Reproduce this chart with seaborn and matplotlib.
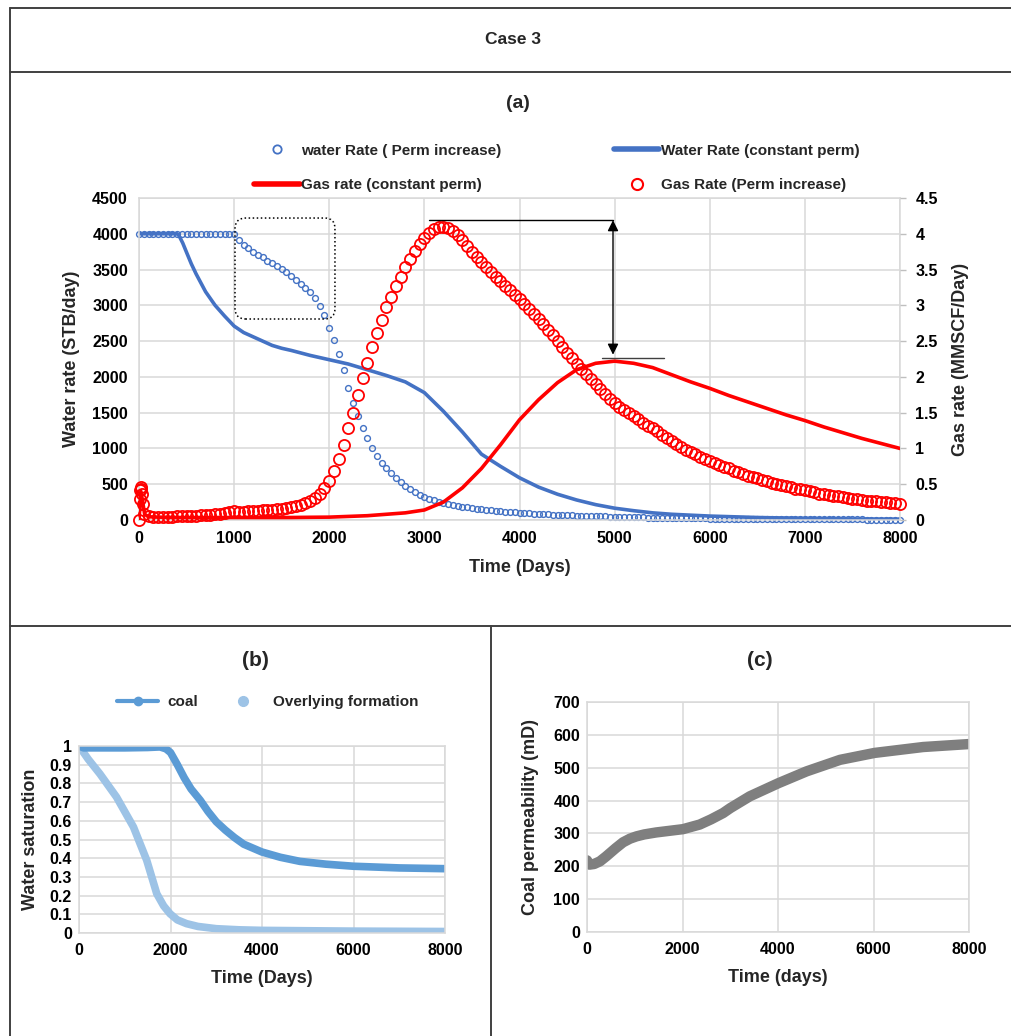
import numpy as np
import matplotlib
matplotlib.use("Agg")
import matplotlib.pyplot as plt
import seaborn as sns
from matplotlib.lines import Line2D
from matplotlib.patches import FancyBboxPatch
from matplotlib.ticker import FuncFormatter, MultipleLocator

# ---- panel (a): sampled every 50 days, 0..8000 ----
t50 = np.arange(0, 8001, 50)

water_inc = [
    4000, 4000, 4000, 4000, 4000, 4000, 4000, 4000, 4000, 4000,
    4000, 4000, 4000, 4000, 4000, 4000, 4000, 4000, 4000, 4000,
    3990, 3920, 3850, 3795, 3750, 3710, 3670, 3625, 3585, 3545,
    3510, 3465, 3415, 3360, 3295, 3240, 3180, 3100, 2990, 2860,
    2690, 2520, 2320, 2090, 1840, 1640, 1450, 1290, 1140, 1010,
    900, 800, 720, 650, 590, 530, 475, 430, 390, 355,
    325, 300, 278, 258, 240, 225, 211, 199, 187, 176,
    166, 157, 149, 141, 134, 127, 121, 115, 110, 105,
    100, 96, 92, 88, 85, 82, 79, 76, 73, 70,
    67, 64, 62, 60, 57, 55, 53, 51, 49, 47,
    45, 43, 41, 40, 38, 37, 35, 34, 33, 31,
    30, 29, 28, 27, 26, 25, 24, 23, 22, 21,
    20, 19.5, 19, 18.5, 18, 17.5, 17, 16.5, 16, 15.5,
    15, 14.5, 14, 13.5, 13, 12.5, 12, 11.5, 11, 10.5,
    10, 9.7, 9.4, 9.1, 8.8, 8.5, 8.2, 8, 7.8, 7.6,
    7.4, 7.2, 7, 6.8, 6.6, 6.4, 6.2, 6, 5.8, 5.6,
    5.5,
]

gas_inc = [
    0.0, 0.08, 0.05, 0.045, 0.045, 0.045, 0.045, 0.045, 0.05, 0.05,
    0.05, 0.055, 0.06, 0.065, 0.07, 0.075, 0.08, 0.09, 0.10, 0.11,
    0.12, 0.11, 0.115, 0.12, 0.125, 0.13, 0.135, 0.14, 0.145, 0.15,
    0.16, 0.17, 0.18, 0.195, 0.21, 0.235, 0.27, 0.31, 0.37, 0.45,
    0.55, 0.68, 0.85, 1.05, 1.28, 1.50, 1.75, 1.98, 2.20, 2.42,
    2.62, 2.80, 2.97, 3.12, 3.27, 3.40, 3.53, 3.65, 3.76, 3.86,
    3.94, 4.01, 4.06, 4.09, 4.10, 4.08, 4.04, 3.98, 3.91, 3.83,
    3.75, 3.68, 3.61, 3.54, 3.47, 3.40, 3.34, 3.27, 3.21, 3.15,
    3.09, 3.02, 2.95, 2.88, 2.81, 2.74, 2.66, 2.58, 2.50, 2.42,
    2.34, 2.26, 2.18, 2.11, 2.04, 1.97, 1.90, 1.83, 1.76, 1.69,
    1.63, 1.58, 1.54, 1.49, 1.45, 1.41, 1.36, 1.32, 1.28, 1.24,
    1.19, 1.15, 1.10, 1.06, 1.02, 0.98, 0.95, 0.92, 0.88, 0.85,
    0.82, 0.79, 0.77, 0.74, 0.72, 0.69, 0.67, 0.64, 0.62, 0.60,
    0.58, 0.56, 0.54, 0.52, 0.50, 0.49, 0.47, 0.46, 0.44, 0.43,
    0.42, 0.40, 0.39, 0.37, 0.36, 0.35, 0.34, 0.33, 0.32, 0.31,
    0.30, 0.29, 0.28, 0.27, 0.265, 0.26, 0.25, 0.245, 0.24, 0.235,
    0.23,
]
# early start-up spike of the perm-increase gas rate
gas_spike_t = [10, 15, 20, 25, 30, 40]
gas_spike_v = [0.30, 0.42, 0.46, 0.44, 0.36, 0.22]

water_const_t = [0, 200, 400, 420, 460, 500, 550, 600, 700, 800, 900, 1000, 1100, 1200,
                 1300, 1400, 1500, 1600, 1700, 1800, 1900, 2000, 2200, 2400, 2600, 2800,
                 3000, 3200, 3400, 3600, 3800, 4000, 4200, 4400, 4600, 4800, 5000,
                 5200, 5400, 5600, 6000, 6500, 7000, 7500, 8000]
water_const_v = [4000, 4000, 4000, 3975, 3870, 3740, 3580, 3440, 3190, 3000, 2850, 2710,
                 2620, 2560, 2500, 2440, 2400, 2370, 2335, 2300, 2270, 2240, 2180, 2100,
                 2020, 1930, 1780, 1520, 1230, 920, 750, 590, 460, 360, 280, 215, 165,
                 130, 100, 80, 55, 35, 22, 14, 10]

gas_const_t = [0, 20, 60, 100, 200, 400, 600, 800, 1000, 1200, 1400, 1600, 1800, 2000,
               2200, 2400, 2600, 2800, 3000, 3200, 3400, 3600, 3800, 4000, 4200, 4400,
               4600, 4800, 5000, 5200, 5400, 5600, 5800, 6000, 6200, 6400, 6600, 6800,
               7000, 7200, 7400, 7600, 7800, 8000]
gas_const_v = [0.0, 0.40, 0.08, 0.045, 0.04, 0.035, 0.035, 0.035, 0.035, 0.035, 0.035,
               0.035, 0.038, 0.04, 0.05, 0.06, 0.08, 0.10, 0.14, 0.25, 0.45, 0.72, 1.05,
               1.40, 1.68, 1.92, 2.10, 2.19, 2.22, 2.19, 2.13, 2.03, 1.93, 1.84, 1.74,
               1.65, 1.56, 1.47, 1.39, 1.30, 1.22, 1.14, 1.07, 1.00]

# annotation: peak gap between the two gas curves
peak_hi = 4.19
peak_lo = 2.26
arrow_t = 4983

# ---- panel (b) ----
coal_t = [0, 100, 500, 1000, 1500, 1770, 1900, 2000, 2150, 2300, 2450, 2650, 2820,
          3000, 3200, 3400, 3600, 4000, 4400, 4830, 5400, 6000, 7000, 8000]
coal_v = [1.0, 0.99, 0.99, 0.99, 0.992, 0.995, 0.985, 0.965, 0.90, 0.83, 0.77, 0.71,
          0.65, 0.595, 0.55, 0.51, 0.475, 0.433, 0.405, 0.383, 0.368, 0.357, 0.348, 0.344]
over_t = [0, 200, 460, 820, 1190, 1480, 1700, 1850, 1990, 2150, 2350, 2600, 3000, 3500,
          4000, 5000, 6000, 7000, 8000]
over_v = [1.0, 0.93, 0.85, 0.727, 0.567, 0.389, 0.21, 0.145, 0.103, 0.07, 0.05, 0.035,
          0.023, 0.017, 0.014, 0.012, 0.01, 0.009, 0.008]

# ---- panel (c) ----
perm_t = [0, 50, 150, 270, 400, 600, 755, 900, 1035, 1200, 1450, 2010, 2360, 2600, 2850,
          3000, 3410, 4010, 4600, 5300, 6020, 7040, 8000]
perm_v = [218, 205, 207, 215, 230, 255, 273, 284, 291, 297, 303, 313, 327, 343, 362,
          377, 413, 453, 489, 524, 545, 563, 572]

BLUE = "#4472C4"
RED = "#FF0000"
COAL = "#5B9BD5"
OVER = "#9DC3E6"
GREY = "#7F7F7F"
GRID = "#D9D9D9"

sns.set_theme(style="whitegrid")
plt.rcParams['font.family'] = ['Liberation Sans', 'DejaVu Sans']
plt.rcParams['font.weight'] = 'bold'
plt.rcParams['axes.labelweight'] = 'bold'

W, H = 1011, 1036
fig = plt.figure(figsize=(W / 100, H / 100), dpi=100)
fig.patch.set_facecolor('white')


def box(l, t, r, b):
    return [l / W, 1 - b / H, (r - l) / W, (b - t) / H]


def style(ax):
    ax.set_facecolor('white')
    ax.grid(True, color=GRID, lw=1.1)
    for s in ax.spines.values():
        s.set_color(GRID)
        s.set_linewidth(1.1)
    ax.tick_params(length=0, labelsize=11.5, colors='black')
    for lab in ax.get_xticklabels() + ax.get_yticklabels():
        lab.set_fontweight('bold')


fmt = FuncFormatter(lambda v, p: f"{v:g}")

# ---------------- panel (a) ----------------
ax = fig.add_axes(box(139, 198, 900, 520))
sns.lineplot(x=water_const_t, y=water_const_v, ax=ax, color=BLUE, lw=2.6,
             estimator=None, sort=False)
sns.lineplot(x=t50, y=water_inc, ax=ax, color=BLUE, ls='', marker='o', ms=4.2,
             mfc='none', mec=BLUE, mew=1.0, estimator=None, sort=False, clip_on=False)
ax.set_xlim(0, 8000)
ax.set_ylim(0, 4500)
ax.xaxis.set_major_locator(MultipleLocator(1000))
ax.yaxis.set_major_locator(MultipleLocator(500))
style(ax)
ax.tick_params(axis='x', pad=8)
ax.tick_params(axis='y', pad=8)
ax.set_xlabel("Time (Days)", fontsize=13, labelpad=9)
ax.set_ylabel("Water rate (STB/day)", fontsize=13, labelpad=9)

ax.add_patch(FancyBboxPatch((1009, 2809), 1051, 1411,
                            boxstyle="round,pad=0,rounding_size=110",
                            mutation_aspect=1.33, fill=False, ls=':', lw=1.1,
                            ec='black', zorder=5))

ax2 = ax.twinx()
gas_t_all = np.concatenate([t50, gas_spike_t])
gas_v_all = np.concatenate([gas_inc, gas_spike_v])
order = np.argsort(gas_t_all, kind='stable')
sns.lineplot(x=gas_const_t, y=gas_const_v, ax=ax2, color=RED, lw=2.6,
             estimator=None, sort=False)
sns.lineplot(x=gas_t_all[order], y=gas_v_all[order], ax=ax2, color=RED, ls='',
             marker='o', ms=8, mfc='none', mec=RED, mew=1.3, estimator=None,
             sort=False, clip_on=False)
ax2.set_ylim(0, 4.5)
ax2.yaxis.set_major_locator(MultipleLocator(0.5))
ax2.yaxis.set_major_formatter(fmt)
ax2.grid(False)
for s in ax2.spines.values():
    s.set_visible(False)
ax2.tick_params(axis='y', length=4, width=1, color='#BFBFBF', labelsize=11.5,
                labelcolor='black', pad=7)
for lab in ax2.get_yticklabels():
    lab.set_fontweight('bold')
ax2.set_ylabel("Gas rate (MMSCF/Day)", fontsize=13, labelpad=10)
ax2.set_xlabel("")

ax2.plot([3049, arrow_t], [peak_hi, peak_hi], color='black', lw=1)
ax2.plot([4867, 5519], [peak_lo, peak_lo], color='#404040', lw=1)
ax2.annotate('', xy=(arrow_t, peak_lo + 0.05), xytext=(arrow_t, peak_hi),
             arrowprops=dict(arrowstyle='<|-|>', color='black', lw=1,
                             mutation_scale=16, shrinkA=0, shrinkB=0))

leg_a = [
    Line2D([], [], ls='', marker='o', ms=6, mfc='none', mec=BLUE, mew=1.3),
    Line2D([], [], color=RED, lw=4),
    Line2D([], [], color=BLUE, lw=4),
    Line2D([], [], ls='', marker='o', ms=8, mfc='none', mec=RED, mew=1.5),
]
lab_a = ["water Rate ( Perm increase)", "Gas rate (constant perm)",
         "Water Rate (constant perm)", "Gas Rate (Perm increase)"]
fig.legend(leg_a, lab_a, loc='center', bbox_to_anchor=(557 / W, 1 - 168 / H), ncol=2,
           frameon=False, prop=dict(weight='bold', size=11),
           handlelength=2.95, handletextpad=0.1, columnspacing=7.4, labelspacing=1.35)

# ---------------- panel (b) ----------------
axb = fig.add_axes(box(79, 746, 445, 933))
sns.lineplot(x=over_t, y=over_v, ax=axb, color=OVER, lw=5.5, estimator=None,
             sort=False, solid_capstyle='round')
sns.lineplot(x=coal_t, y=coal_v, ax=axb, color=COAL, lw=5.5, estimator=None,
             sort=False, solid_capstyle='round')
axb.set_xlim(0, 8000)
axb.set_ylim(0, 1)
axb.xaxis.set_major_locator(MultipleLocator(2000))
axb.yaxis.set_major_locator(MultipleLocator(0.1))
axb.yaxis.set_major_formatter(fmt)
style(axb)
axb.tick_params(axis='x', pad=7)
axb.tick_params(axis='y', pad=5)
axb.set_xlabel("Time (Days)", fontsize=13, labelpad=9)
axb.set_ylabel("Water saturation", fontsize=13, labelpad=8)

leg_b = [Line2D([], [], color=COAL, lw=3, marker='o', ms=6),
         Line2D([], [], ls='', marker='o', ms=7, color=OVER)]
fig.legend(leg_b, ["coal", "Overlying formation"], loc='center',
           bbox_to_anchor=(268 / W, 1 - 702 / H), ncol=2, frameon=False,
           prop=dict(weight='bold', size=11), handlelength=2.7, handletextpad=0.6,
           columnspacing=1.6)

# ---------------- panel (c) ----------------
axc = fig.add_axes(box(587, 702, 969, 932))
sns.lineplot(x=perm_t, y=perm_v, ax=axc, color=GREY, lw=7.5, estimator=None,
             sort=False, solid_capstyle='round')
axc.set_xlim(0, 8000)
axc.set_ylim(0, 700)
axc.xaxis.set_major_locator(MultipleLocator(2000))
axc.yaxis.set_major_locator(MultipleLocator(100))
style(axc)
axc.tick_params(axis='x', pad=7)
axc.tick_params(axis='y', pad=5)
axc.set_xlabel("Time (days)", fontsize=13, labelpad=9)
axc.set_ylabel("Coal permeability (mD)", fontsize=13, labelpad=10)

# ---------------- titles and table frame ----------------
fig.text(513 / W, 1 - 40 / H, "Case 3", ha='center', va='center', fontsize=12.5,
         weight='bold')
fig.text(518 / W, 1 - 103 / H, "(a)", ha='center', va='center', fontsize=14,
         weight='bold')
fig.text(255 / W, 1 - 660 / H, "(b)", ha='center', va='center', fontsize=15,
         weight='bold')
fig.text(760 / W, 1 - 660 / H, "(c)", ha='center', va='center', fontsize=15,
         weight='bold')


def frame(x0, y0, x1, y1):
    fig.add_artist(Line2D([x0 / W, x1 / W], [1 - y0 / H, 1 - y1 / H],
                          transform=fig.transFigure, color='#404040', lw=1.4))


frame(10, 8, 1011, 8)
frame(10, 72, 1011, 72)
frame(10, 626, 1011, 626)
frame(10, 8, 10, 1036)
frame(491, 626, 491, 1036)

fig.savefig("out.png", dpi=100, facecolor='white')
